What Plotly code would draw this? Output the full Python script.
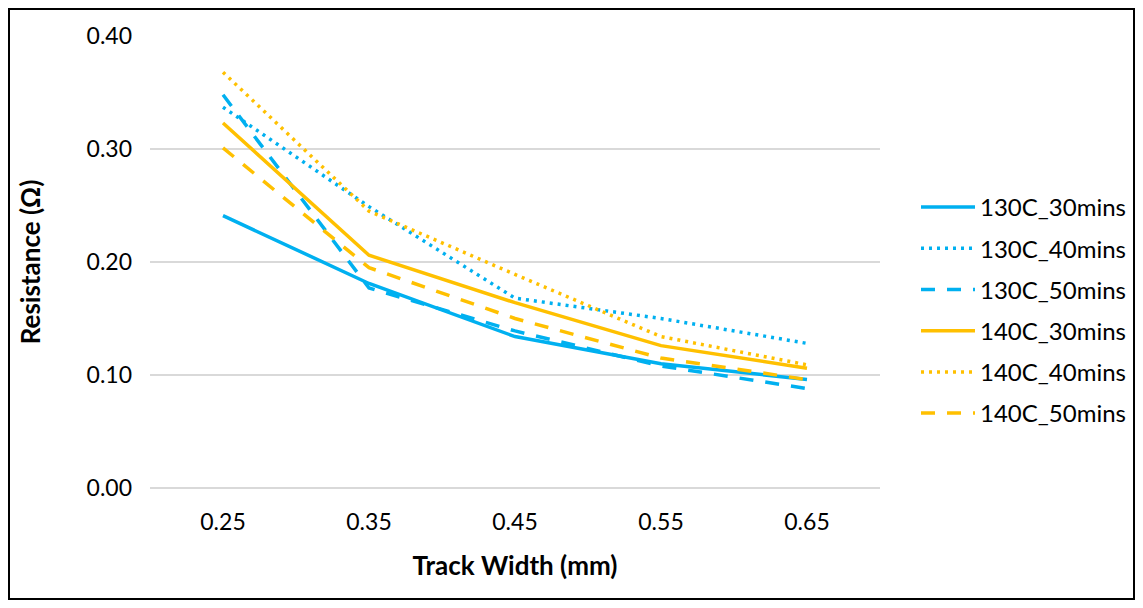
import plotly.graph_objects as go

track_width = ["0.25", "0.35", "0.45", "0.55", "0.65"]
r_130c_30 = [0.241, 0.181, 0.134, 0.110, 0.096]
r_130c_40 = [0.337, 0.249, 0.168, 0.150, 0.128]
r_130c_50 = [0.348, 0.177, 0.139, 0.108, 0.088]
r_140c_30 = [0.323, 0.206, 0.164, 0.126, 0.106]
r_140c_40 = [0.368, 0.245, 0.189, 0.134, 0.109]
r_140c_50 = [0.301, 0.195, 0.150, 0.115, 0.096]

BLUE = "#00B0F0"
ORANGE = "#FFC000"
FONT = "Lato"

series = [
    ("130C_30mins", r_130c_30, BLUE, "solid"),
    ("130C_40mins", r_130c_40, BLUE, "3px,5px"),
    ("130C_50mins", r_130c_50, BLUE, "14px,12px"),
    ("140C_30mins", r_140c_30, ORANGE, "solid"),
    ("140C_40mins", r_140c_40, ORANGE, "3px,5px"),
    ("140C_50mins", r_140c_50, ORANGE, "14px,12px"),
]

fig = go.Figure()
for i, (name, vals, color, dash) in enumerate(series):
    fig.add_trace(go.Scatter(
        x=track_width, y=vals, name=name, mode="lines",
        line=dict(color=color, width=3.5, dash=dash),
        legendgroup=f"g{i}",
    ))

# page body has an 8px margin, so the figure is offset by 8px
W, H = 1127, 592
L, R, T, B = 142, 255, 28, 112
pw, ph = W - L - R, H - T - B

def px_x(x):
    return (x - L) / pw

def px_y(y):
    return (T + ph - y) / ph

fig.update_layout(
    width=W, height=H,
    margin=dict(l=L, r=R, t=T, b=B, autoexpand=False),
    paper_bgcolor="white", plot_bgcolor="white",
    font=dict(family=FONT, size=23, color="#000000"),
    showlegend=True,
    legend=dict(
        x=px_x(908), y=px_y(177), xanchor="left", yanchor="top",
        font=dict(family=FONT, size=24, color="#000000"),
        tracegroupgap=7, traceorder="grouped", itemwidth=54,
        bgcolor="rgba(0,0,0,0)",
    ),
    xaxis=dict(
        type="category", range=[-0.5, 4.5],
        showgrid=False, showline=False, zeroline=False,
        ticks="", ticklabelstandoff=18, tickfont=dict(family=FONT, size=23),
        title=dict(text="<b>Track Width (mm)</b>", font=dict(family=FONT, size=26), standoff=22),
    ),
    yaxis=dict(
        range=[0, 0.4], dtick=0.1, tickformat=".2f",
        showgrid=True, gridcolor="#D9D9D9", gridwidth=1.5,
        zeroline=True, zerolinecolor="#D9D9D9", zerolinewidth=1.5,
        showline=False, ticks="", ticklabelstandoff=17,
        tickfont=dict(family=FONT, size=23),
        title=dict(text="<b>Resistance (Ω)</b>", font=dict(family=FONT, size=26), standoff=38),
    ),
    shapes=[dict(
        type="rect", xref="paper", yref="paper",
        x0=px_x(1), x1=px_x(1126),
        y0=px_y(591), y1=px_y(1),
        line=dict(color="black", width=2), fillcolor="rgba(0,0,0,0)", layer="below",
    )],
)

fig.write_html("out.html")
